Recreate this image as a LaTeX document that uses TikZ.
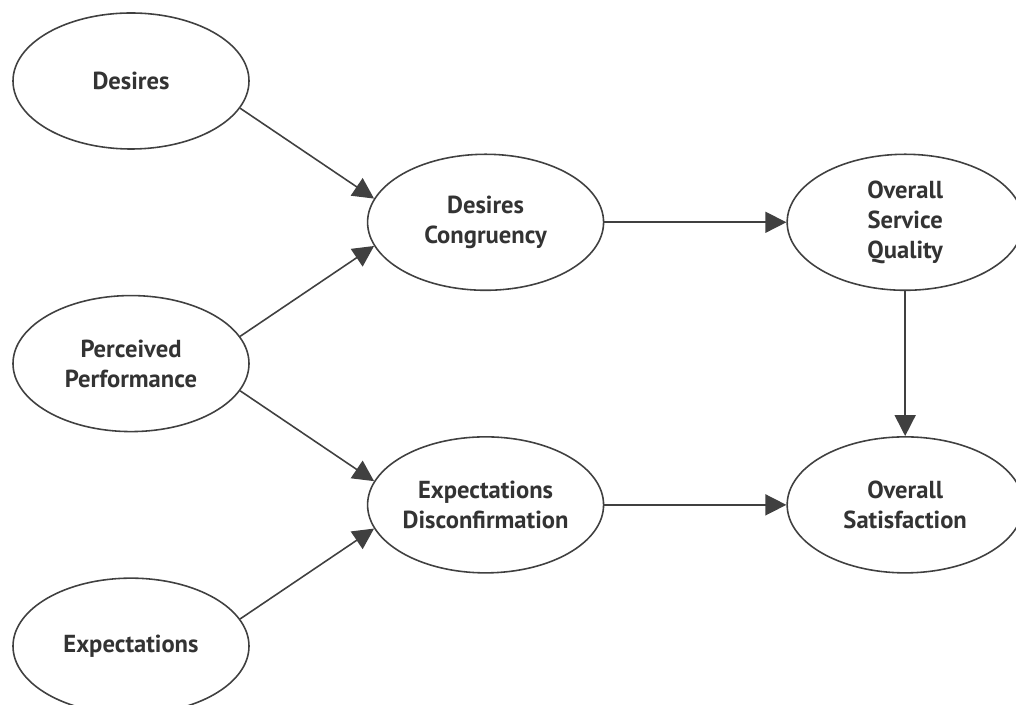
\documentclass[tikz,border=0pt]{standalone}
\usepackage{fontspec}
\setmainfont{PT Sans}
\usepackage{tikz}
\usetikzlibrary{shapes.geometric,arrows.meta,positioning,calc}

\begin{document}
\begin{tikzpicture}[
  node distance=2.9cm and 2.34cm,
  every node/.style={font=\fontsize{14}{17}\selectfont\bfseries,text=black!80},
  blob/.style={draw=black!75,line width=0.9pt,ellipse,inner sep=0pt,minimum width=4.72cm,minimum height=2.72cm,align=center},
  link/.style={draw=black!75,line width=0.9pt,-{Triangle[length=4.2mm,width=4.2mm]}}]

\useasboundingbox (-2.62,1.62) rectangle (17.70,-12.48);

\node[blob] (des) {Desires};
\node[blob,below=of des] (perf) {Perceived\\Performance};
\node[blob,below=of perf] (expc) {Expectations};
\node[blob,right=of $(des.east)!0.5!(perf.east)$] (cong) {Desires\\Congruency};
\node[blob,right=of $(perf.east)!0.5!(expc.east)$] (disc) {Expectations\\Disconfirmation};
\node[blob,right=3.64cm of cong] (qual) {Overall\\Service\\Quality};
\node[blob,below=of qual] (sat) {Overall\\Satisfaction};

\draw[link] (des.-14) -- (cong.168);
\draw[link] (perf.14) -- (cong.192);
\draw[link] (perf.-14) -- (disc.168);
\draw[link] (expc.14) -- (disc.192);
\draw[link] (cong) -- (qual);
\draw[link] (disc) -- (sat);
\draw[link] (qual) -- (sat);
\end{tikzpicture}
\end{document}
